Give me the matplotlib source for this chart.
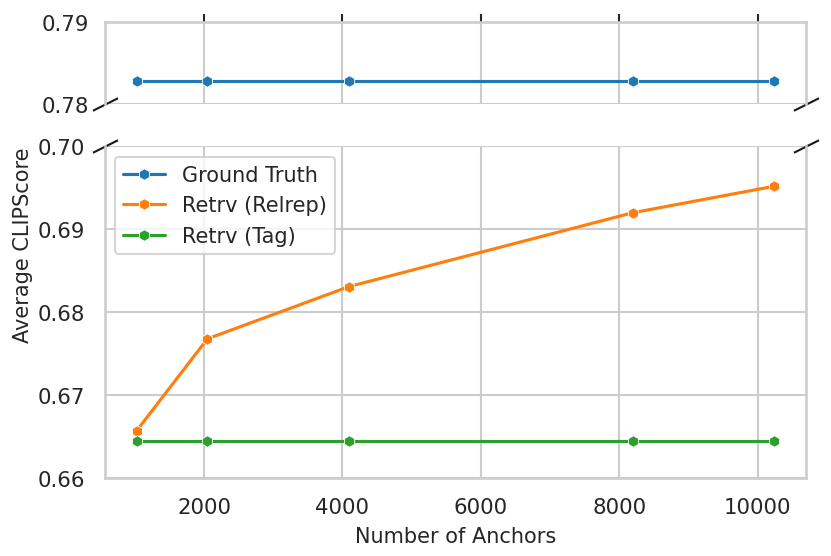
import numpy as np
import matplotlib
matplotlib.use("Agg")
import matplotlib.pyplot as plt
import seaborn as sns

# data
anchors = [1024, 2048, 4096, 8192, 10240]
ground_truth = [0.7829, 0.7829, 0.7829, 0.7829, 0.7829]
retrv_relrep = [0.6657, 0.6768, 0.6831, 0.6920, 0.6952]
retrv_tag = [0.6645, 0.6645, 0.6645, 0.6645, 0.6645]

series = [("Ground Truth", ground_truth, "#1f77b4"),
          ("Retrv (Relrep)", retrv_relrep, "#ff7f0e"),
          ("Retrv (Tag)", retrv_tag, "#2ca02c")]

sns.set_theme(style="whitegrid")
plt.rcParams['font.family'] = ['DejaVu Sans']

fig, (ax1, ax2) = plt.subplots(2, 1, sharex=True, figsize=(5.54, 3.71), dpi=150,
                               gridspec_kw={'height_ratios': [82, 331]})
fig.subplots_adjust(left=0.126, right=0.970, top=0.959, bottom=0.140, hspace=0.203)

for ax in (ax1, ax2):
    for name, vals, col in series:
        ax.plot(anchors, vals, marker='h', markersize=5.5, color=col, lw=1.5,
                mec='white', mew=0.4, label=name)
    for s in ax.spines.values():
        s.set_color('.8')
    ax.tick_params(axis='both', labelsize=10.2, colors='.15')

ax1.set_ylim(0.78, 0.79)
ax1.set_yticks([0.78, 0.79])
ax2.set_ylim(0.66, 0.70)
ax2.set_yticks([0.66, 0.67, 0.68, 0.69, 0.70])
ax2.set_xticks([2000, 4000, 6000, 8000, 10000])

ax1.spines['bottom'].set_visible(False)
ax2.spines['top'].set_visible(False)
ax1.xaxis.tick_top()
ax1.tick_params(labeltop=False, top=True, length=4, width=1, color='.15')
ax2.xaxis.tick_bottom()
ax2.tick_params(axis='x', bottom=False)

# break marks
d = 0.5
kw = dict(marker=[(-1, -d), (1, d)], markersize=12, linestyle="none",
          color='k', mec='k', mew=1, clip_on=False)
ax1.plot([0, 1], [0, 0], transform=ax1.transAxes, **kw)
ax2.plot([0, 1], [1, 1], transform=ax2.transAxes, **kw)

ax2.set_xlabel("Number of Anchors", fontsize=10, color='.15')
fig.text(0.028, 0.56, "Average CLIPScore", rotation=90, va='center', ha='center',
         fontsize=10, color='.15')

ax2.legend(loc='upper left', fontsize=10, frameon=True)

fig.savefig("out.png", dpi=150)
